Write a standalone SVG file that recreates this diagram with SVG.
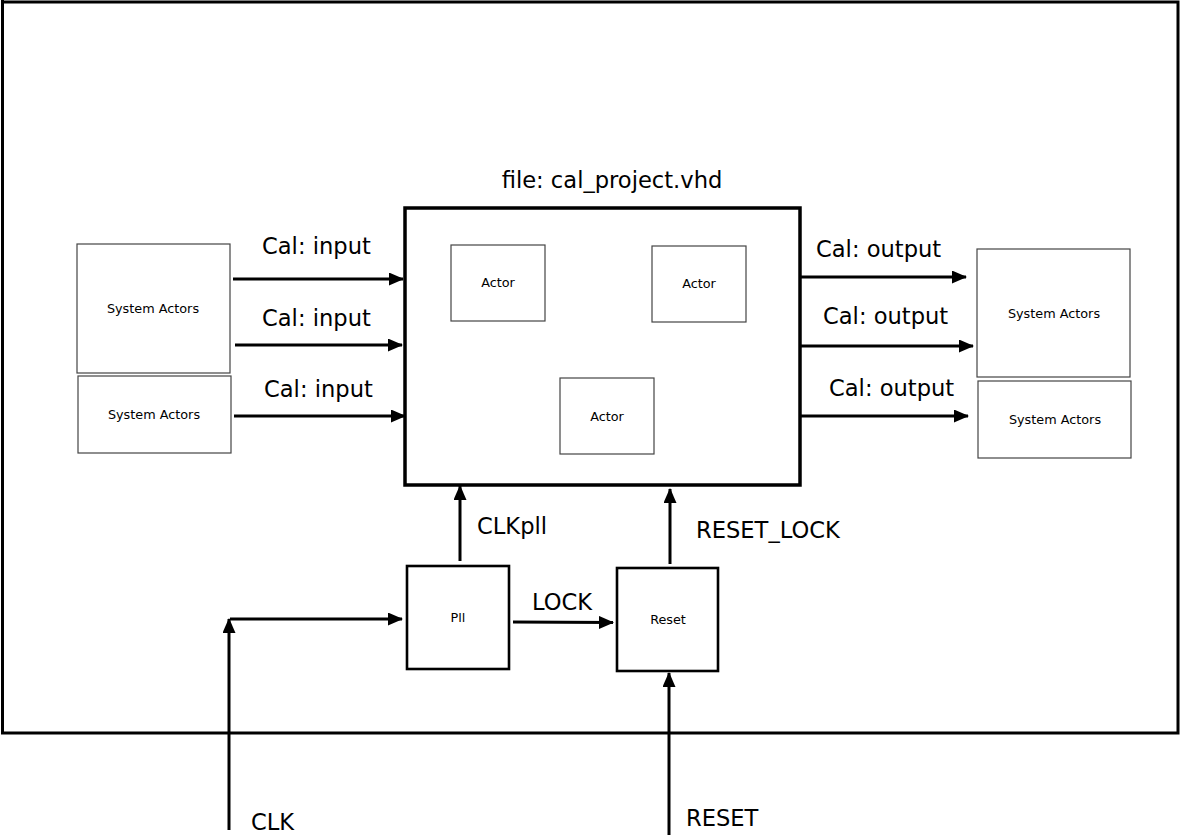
<svg xmlns="http://www.w3.org/2000/svg" width="1182" height="839" viewBox="0 0 1182 839">
<style>
.t{font-family:"DejaVu Sans",sans-serif;fill:#000}
.big{font-size:22.6px}
.sm{font-size:12.8px}
.act{fill:#fff;stroke:#444;stroke-width:1.2}
.blk{fill:#fff;stroke:#000;stroke-width:2.6}
</style>
<defs>
<marker id="ah" markerUnits="userSpaceOnUse" markerWidth="15" markerHeight="13" refX="14" refY="6.5" orient="auto">
<path d="M0,0 L15,6.5 L0,13 Z" fill="#000"/>
</marker>
</defs>
<rect width="1182" height="839" fill="#fff"/>
<g id="frame">
<path d="M2.5,0 V733 H1178 V2 H2.5" fill="none" stroke="#000" stroke-width="3"/>
</g>
<g id="main">
<rect x="405" y="208" width="395" height="277" fill="#fff" stroke="#000" stroke-width="3.5"/>
<text class="t big" x="612" y="188" text-anchor="middle">file: cal_project.vhd</text>
</g>
<g id="actor1"><rect class="act" x="451" y="245" width="94" height="76"/><text class="t sm" x="498" y="287" text-anchor="middle">Actor</text></g>
<g id="actor2"><rect class="act" x="652" y="246" width="94" height="76"/><text class="t sm" x="699" y="288" text-anchor="middle">Actor</text></g>
<g id="actor3"><rect class="act" x="560" y="378" width="94" height="76"/><text class="t sm" x="607" y="421" text-anchor="middle">Actor</text></g>
<g id="sysL1"><rect class="act" x="77" y="244" width="153" height="129"/><text class="t sm" x="153" y="313" text-anchor="middle">System Actors</text></g>
<g id="sysL2"><rect class="act" x="78" y="376" width="153" height="77"/><text class="t sm" x="154" y="419" text-anchor="middle">System Actors</text></g>
<g id="sysR1"><rect class="act" x="977" y="249" width="153" height="128"/><text class="t sm" x="1054" y="318" text-anchor="middle">System Actors</text></g>
<g id="sysR2"><rect class="act" x="978" y="381" width="153" height="77"/><text class="t sm" x="1055" y="424" text-anchor="middle">System Actors</text></g>
<g id="pll"><rect class="blk" x="407" y="566" width="102" height="103"/><text class="t sm" x="458" y="622" text-anchor="middle">Pll</text></g>
<g id="reset"><rect class="blk" x="617" y="568" width="101" height="103"/><text class="t sm" x="668" y="624" text-anchor="middle">Reset</text></g>
<g id="connectors" stroke="#000" stroke-width="3" fill="none">
<line x1="233" y1="279" x2="403" y2="279" marker-end="url(#ah)"/>
<line x1="235" y1="345" x2="402" y2="345" marker-end="url(#ah)"/>
<line x1="234" y1="416" x2="405" y2="416" marker-end="url(#ah)"/>
<line x1="800" y1="277" x2="966" y2="277" marker-end="url(#ah)"/>
<line x1="800" y1="346" x2="973" y2="346" marker-end="url(#ah)"/>
<line x1="800" y1="416" x2="968" y2="416" marker-end="url(#ah)"/>
<line x1="460" y1="561" x2="460" y2="486" marker-end="url(#ah)"/>
<line x1="670" y1="564" x2="670" y2="489" marker-end="url(#ah)"/>
<line x1="513" y1="622" x2="613" y2="622.5" marker-end="url(#ah)"/>
<line x1="669" y1="835" x2="669" y2="673" marker-end="url(#ah)"/>
<line x1="229" y1="830" x2="229" y2="619" marker-end="url(#ah)"/>
<line x1="230" y1="619" x2="402" y2="619" marker-end="url(#ah)"/>
</g>
<g id="labels">
<text class="t big" x="262" y="254">Cal: input</text>
<text class="t big" x="262" y="326">Cal: input</text>
<text class="t big" x="264" y="397">Cal: input</text>
<text class="t big" x="816" y="257">Cal: output</text>
<text class="t big" x="823" y="324">Cal: output</text>
<text class="t big" x="829" y="396">Cal: output</text>
<text class="t big" x="477" y="534">CLKpll</text>
<text class="t big" x="696" y="538">RESET_LOCK</text>
<text class="t big" x="532" y="610">LOCK</text>
<text class="t big" x="251" y="830">CLK</text>
<text class="t big" x="686" y="826">RESET</text>
</g>
</svg>
